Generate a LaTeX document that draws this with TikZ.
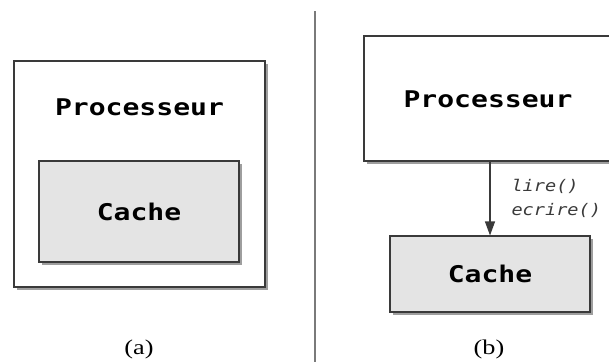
\documentclass[tikz,border=0pt]{standalone}
\usepackage{fontspec}
\setmonofont{DejaVu Sans Mono}[FakeStretch=1.22]
\newfontfamily\callfont{DejaVu Sans Mono Oblique}[FakeStretch=1.16]
\newfontfamily\capfont{Liberation Serif}[FakeStretch=1.25]
\usetikzlibrary{positioning}
\usetikzlibrary{arrows.meta}
\usetikzlibrary{shadows}
\definecolor{boxline}{HTML}{3A3A3A}
\definecolor{cachefill}{HTML}{E4E4E4}
\definecolor{splitgray}{HTML}{7A7A7A}
\tikzset{
        blocknode/.style={draw=boxline, line width=1.1pt, inner sep=0pt,
            drop shadow={shadow xshift=3pt, shadow yshift=-3pt, fill=black!38, opacity=1}},
        % Processor boxes
        node_proc/.style={blocknode, fill=white},
        % Cache boxes
        node_cache/.style={blocknode, fill=cachefill, minimum width=200pt, minimum height=100pt},
        % Box titles
        node_title/.style={inner sep=0pt, font=\fontsize{23}{26}\selectfont\ttfamily\bfseries},
        % Call names on the arrow
        node_call/.style={align=left, inner sep=0pt, font=\callfont\fontsize{16}{24}\selectfont},
        % Sub figure captions
        node_caption/.style={inner sep=0pt, font=\capfont\fontsize{21}{24}\selectfont}
}
\begin{document}
\begin{tikzpicture}[x=1pt, y=-1pt]
            \useasboundingbox (0,0) rectangle (609,362);
            % (a) cache inside the processor
            \node[node_proc, minimum width=251pt, minimum height=226pt] (procA) at (139.5,174) {};
            \node[node_title] (procAtitle) at (139.5,107) {Processeur};
            \node[node_cache, minimum height=101pt] (cacheA) at (139,211.5) {};
            \node[node_title] at (cacheA) {Cache};
            \node[node_caption] (capA) at (139,349) {(a)};
            % separation
            \coordinate (splittop) at (315,11);
            \coordinate (splitbot) at (315,362);
            \draw[splitgray, line width=2pt] (splittop) -- (splitbot);
            % (b) cache beside the processor
            \node[node_proc, minimum width=252pt, minimum height=125pt] (procB) at (490,98.5) {};
            \node[node_title] (procBtitle) at (488,99) {Processeur};
            \node[node_cache, minimum height=76pt] (cacheB) at (490,274) {};
            \node[node_title] at (cacheB) {Cache};
            \draw[boxline, line width=1.1pt, -{Triangle[width=10pt, length=14pt]}] (procB) -- node[node_call, anchor=west, xshift=21pt] {lire()\\ecrire()} (cacheB);
            \node[node_caption] (capB) at (489,349) {(b)};
        \end{tikzpicture}
\end{document}
